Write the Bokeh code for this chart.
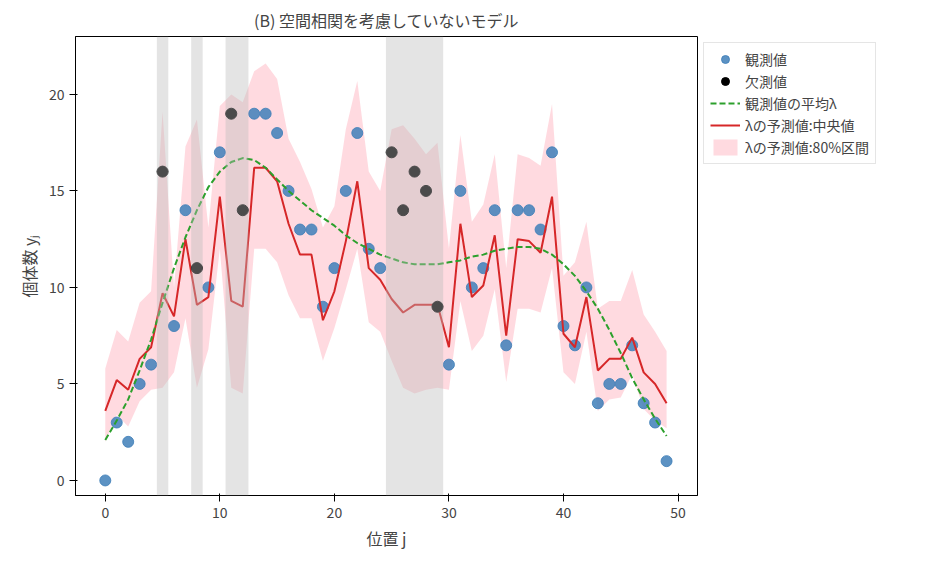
from bokeh.plotting import figure
from bokeh.models import Legend, LegendItem, BoxAnnotation
from bokeh.embed import file_html
from bokeh.resources import INLINE

pos = list(range(50))
obs = [0,3,2,5,6,16,8,14,11,10,17,19,14,19,19,18,15,13,13,9,11,15,18,12,11,17,14,16,15,9,6,15,10,11,14,7,14,14,13,17,8,7,10,4,5,5,7,4,3,1]
missing = [5,8,11,12,25,26,27,28,29]
gaps = [(4.5,5.5),(7.5,8.5),(10.5,12.5),(24.5,29.5)]
median = [3.6,5.2,4.7,6.3,6.9,9.7,8.5,12.5,9.1,9.5,14.7,9.3,9.0,16.2,16.2,15.5,13.3,11.7,11.7,8.3,9.8,12.4,15.5,11.0,10.4,
          9.4,8.7,9.1,9.1,9.1,6.9,13.3,9.5,10.1,12.7,7.5,12.5,12.4,11.8,14.7,7.6,6.9,9.5,5.7,6.3,6.3,7.4,5.6,5.0,4.0]
mean_lam = [2.1,3.1,4.2,5.7,7.3,9.2,11.0,12.6,14.0,15.2,16.0,16.5,16.7,16.6,16.2,15.6,15.0,14.5,14.0,13.6,13.2,12.7,12.3,12.0,11.7,
            11.5,11.3,11.2,11.2,11.2,11.3,11.4,11.6,11.7,11.9,12.0,12.1,12.1,12.0,11.7,11.2,10.6,9.8,8.9,7.8,6.6,5.3,4.2,3.2,2.3]
upper = [5.8,7.8,7.2,9.2,9.8,19.1,10.0,17.3,18.7,13.1,19.4,20.0,19.6,21.2,21.6,20.8,17.7,16.5,15.1,13.1,14.2,18.2,20.7,16.0,15.0,
         18.2,18.4,17.7,16.9,17.5,12.0,17.9,13.4,14.3,16.9,11.0,16.9,16.7,16.3,19.5,10.6,11.3,13.4,8.9,9.3,9.3,10.9,8.6,7.7,6.7]
lower = [2.0,3.4,2.8,4.1,4.7,4.8,5.6,8.4,4.8,6.8,12.0,4.8,4.5,12.0,12.0,11.3,9.6,8.4,8.4,6.2,7.9,9.9,12.0,8.2,7.7,
         6.2,4.8,4.5,4.7,4.8,4.7,9.3,6.7,7.5,9.9,5.1,8.9,8.9,8.7,11.0,5.6,5.0,7.7,3.6,4.2,4.3,5.5,3.7,3.1,2.7]

FONT = "Noto Sans CJK JP"
p = figure(frame_width=622, frame_height=459, x_range=(-2.6, 51.7), y_range=(-0.78, 23.0),
           output_backend="svg", toolbar_location=None,
           title="(B) 空間相関を考慮していないモデル",
           min_border_left=75, min_border_top=5, min_border_bottom=55, min_border_right=5)
p.title.text_font = FONT
p.title.text_font_size = "16px"
p.title.text_font_style = "normal"
p.title.align = "center"
p.grid.visible = False
p.outline_line_color = "black"
for ax in (p.xaxis[0], p.yaxis[0]):
    ax.major_label_text_font = FONT
    ax.major_label_text_font_size = "14px"
    ax.axis_label_text_font = FONT
    ax.axis_label_text_font_size = "16px"
    ax.axis_label_text_font_style = "normal"
    ax.minor_tick_line_color = None
p.xaxis.axis_label = "位置 j"
p.yaxis.axis_label = "個体数 yⱼ"
p.xaxis.ticker = [0,10,20,30,40,50]
p.yaxis.ticker = [0,5,10,15,20]

for a, b in gaps:
    p.add_layout(BoxAnnotation(left=a, right=b, fill_color="#bbbbbb", fill_alpha=0.4, line_alpha=0))

obs_x = [i for i in pos if i not in missing]
obs_y = [obs[i] for i in obs_x]
mis_y = [obs[i] for i in missing]

r_band = p.varea(x=pos, y1=lower, y2=upper, fill_color="#ffb6c1", fill_alpha=0.5)
r_obs = p.scatter(obs_x, obs_y, size=11, color="#3f7fb9", alpha=0.85)
r_med = p.line(pos, median, line_color="#d62728", line_width=2)
r_mean = p.line(pos, mean_lam, line_color="#2ca02c", line_dash="6 3", line_width=2)
r_mis = p.scatter(missing, mis_y, size=11, color="black")

legend = Legend(items=[
    LegendItem(label="観測値", renderers=[r_obs]),
    LegendItem(label="欠測値", renderers=[r_mis]),
    LegendItem(label="観測値の平均λ", renderers=[r_mean]),
    LegendItem(label="λの予測値:中央値", renderers=[r_med]),
    LegendItem(label="λの予測値:80%区間", renderers=[r_band]),
], location="top_left", label_text_font=FONT, label_text_font_size="14px",
   border_line_color="#cccccc", spacing=2, padding=6, margin=6, glyph_width=30)
p.add_layout(legend, "right")

open("out.html", "w").write(file_html(p, INLINE))
